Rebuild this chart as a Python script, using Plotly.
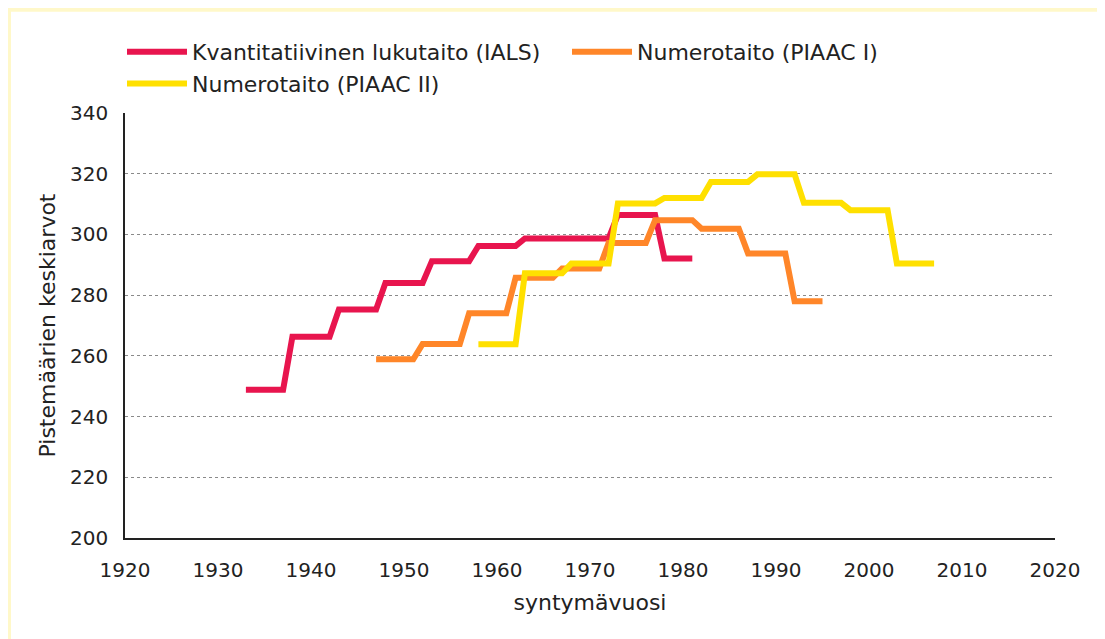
import plotly.graph_objects as go

# ---- data (cohort start year, cohort end year, mean score) ----
ials_start = [1933, 1938, 1943, 1948, 1953, 1958, 1963, 1968, 1973, 1978]
ials_end = [1937, 1942, 1947, 1952, 1957, 1962, 1967, 1972, 1977, 1981]
ials_vals = [248.8, 266.3, 275.3, 284.0, 291.2, 296.2, 298.7, 298.7, 306.4, 292.1]

piaac1_start = [1947, 1952, 1957, 1962, 1967, 1972, 1977, 1982, 1987, 1992]
piaac1_end = [1951, 1956, 1961, 1966, 1971, 1976, 1981, 1986, 1991, 1995]
piaac1_vals = [258.9, 263.9, 274.0, 285.7, 288.8, 297.2, 304.7, 301.9, 293.7, 278.0]

piaac2_start = [1958, 1963, 1968, 1973, 1978, 1983, 1988, 1993, 1998, 2003]
piaac2_end = [1962, 1967, 1972, 1977, 1982, 1987, 1992, 1997, 2002, 2007]
piaac2_vals = [263.8, 287.2, 290.4, 310.2, 312.0, 317.3, 319.8, 310.4, 308.0, 290.4]

names = ["Kvantitatiivinen lukutaito (IALS)", "Numerotaito (PIAAC I)", "Numerotaito (PIAAC II)"]
colors = ["#E8154E", "#FF8629", "#FFE000"]

x_ticks = list(range(1920, 2021, 10))
y_ticks = list(range(200, 341, 20))

W, H = 1105, 639
ML, MR, MT, MB = 117, 58, 104.5, 108.5


def steps(starts, ends, vals):
    xs, ys = [], []
    for s, e, v in zip(starts, ends, vals):
        xs += [s, e]
        ys += [v, v]
    return xs, ys


fig = go.Figure()
for (s, e, v), name, col in zip(
    [(ials_start, ials_end, ials_vals), (piaac1_start, piaac1_end, piaac1_vals),
     (piaac2_start, piaac2_end, piaac2_vals)], names, colors):
    xs, ys = steps(s, e, v)
    fig.add_trace(go.Scatter(x=xs, y=ys, mode="lines", name=name,
                             line=dict(color=col, width=6)))

pw = W - ML - MR
ph = H - MT - MB
# white card on yellow background
fig.add_shape(type="rect", xref="paper", yref="paper",
              x0=(3 - ML) / pw, x1=(W + 10 - ML) / pw,
              y0=(H - MB - (H + 10)) / ph, y1=(H - MB - 3) / ph,
              fillcolor="white", line=dict(width=0), layer="below")

font = "DejaVu Sans, sans-serif"
fig.update_layout(
    width=W, height=H,
    margin=dict(l=ML, r=MR, t=MT, b=MB, autoexpand=False),
    paper_bgcolor="#FFF8C9",
    plot_bgcolor="rgba(0,0,0,0)",
    font=dict(family=font, size=20, color="#222222"),
    showlegend=True,
    legend=dict(orientation="h", xref="container", yref="container",
                x=114 / W, xanchor="left", y=1 - 23 / H, yanchor="top",
                entrywidth=370, entrywidthmode="pixels", itemwidth=60,
                font=dict(size=22, color="#222222"), bgcolor="rgba(0,0,0,0)",
                traceorder="normal"),
    xaxis=dict(range=[1920, 2020], tickvals=x_ticks, ticktext=[str(t) for t in x_ticks],
               showgrid=False, zeroline=False, showline=True, linecolor="#222222", linewidth=1.5,
               ticks="outside", ticklen=13, tickcolor="rgba(0,0,0,0)", automargin=False,
               tickfont=dict(size=20),
               title=dict(text="syntymävuosi", standoff=14, font=dict(size=22))),
    yaxis=dict(range=[200, 340], tickvals=y_ticks, ticktext=[str(t) for t in y_ticks],
               showgrid=True, gridcolor="#8a8a8a", griddash="dot", gridwidth=1,
               zeroline=False, showline=True, linecolor="#222222", linewidth=1.5,
               ticks="outside", ticklen=11, tickcolor="rgba(0,0,0,0)", automargin=False,
               tickfont=dict(size=20),
               title=dict(text="Pistemäärien keskiarvot", standoff=8, font=dict(size=22))),
)

fig.write_html("out.html")
